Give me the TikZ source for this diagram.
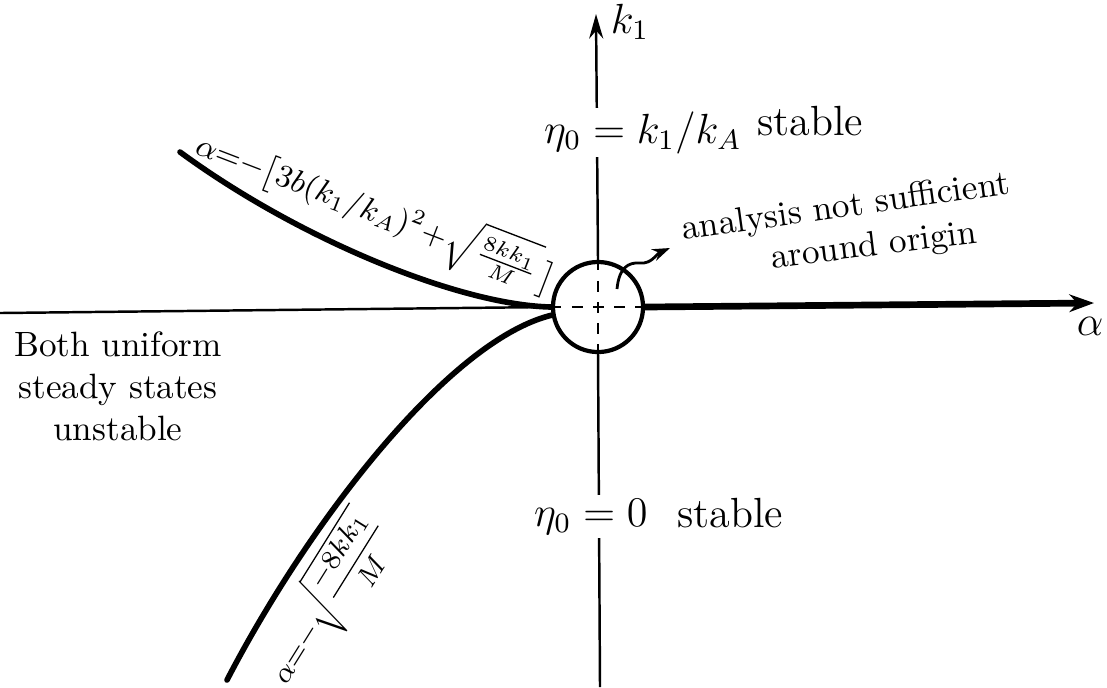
\documentclass[tikz,border=0pt]{standalone}
\usepackage{amsmath,amssymb}
\usetikzlibrary{arrows.meta,positioning}

\begin{document}
\begin{tikzpicture}[
    x=0.01cm, y=-0.01cm,
    axisLine/.style={line width=0.7pt, draw=black},
    mainAxis/.style={line width=1.9pt, -{Stealth[length=7pt, width=5pt]}},
    branch/.style={line width=1.6pt, line cap=round},
    inside/.style={line width=0.8pt, dashed},
    blob/.style={circle, draw, line width=1.2pt, minimum size=0.9cm, inner sep=0pt},
    regionLabel/.style={font=\large, inner sep=1pt},
    curveLabel/.style={font=\small, inner sep=1pt},
    noteLabel/.style={font=\fontsize{10}{12}\selectfont, align=center, inner sep=0.5pt},
    pointer/.style={line width=0.8pt, -{Stealth[length=5pt, width=3.5pt]}}
]
\useasboundingbox (0,0) rectangle (1107,687);

% Region around the origin
\node[blob] (origin) at (598,307) {};

% Axes ends
\coordinate (kTop) at (596,14);
\coordinate (kBot) at (600,687);
\coordinate (aLeft) at (0,313);
\coordinate (aRight) at (1094,303);

% Region labels (drawn first so the white fill cuts the axis)
\draw[axisLine] (kBot) -- (origin.south);
\draw[axisLine, -{Stealth[length=7pt, width=4pt]}] (origin.north) -- (kTop);

\node[regionLabel, fill=white, anchor=base west] (upperState) at (540,143) {$\eta_0 = k_1/k_A$};
\node[regionLabel, anchor=base west] (upperStable) at (753,135) {stable};
\node[regionLabel, fill=white, anchor=base west] (lowerState) at (530,526) {$\eta_0 = 0$};
\node[regionLabel, anchor=base west] (lowerStable) at (673,527) {stable};

% Axes
\draw[axisLine] (aLeft) -- (origin.west);
\draw[mainAxis] (origin.east) -- (aRight);
\draw[inside] (origin.west) -- (origin.east);
\draw[inside] (origin.north) -- (origin.south);

\node[font=\large] (kLabel) at (630,22) {$k_1$};
\node[font=\large] (aLabel) at (1090,326) {$\alpha$};

% Branches
\coordinate (upStart) at (180,152);
\coordinate (lowStart) at (227,680);
\draw[branch] (upStart) .. controls (300,240) and (460,305) .. (origin.west);
\draw[branch] (lowStart) .. controls (310,520) and (450,340) .. (origin.190);

\node[curveLabel, rotate=-21] (upperBranch) at (376,211)
    {$\alpha{=}{-}\bigl[3b(k_1/k_A)^2{+}\sqrt{\tfrac{8kk_1}{M}}\,\bigr]$};
\node[curveLabel, rotate=58, font=\footnotesize] (lowerBranch) at (327,600)
    {$\alpha{=}{-}\sqrt{\dfrac{-8kk_1}{M}}$};

% Left region
\node[noteLabel] (leftRegion) at (118,386) {Both uniform\\steady states\\unstable};

% Note about the origin
\node[noteLabel, rotate=8] (originNote) at (846,208) {analysis not sufficient};
\node[noteLabel, rotate=7] (originNoteB) at (874,247) {around origin};
\coordinate (noteTail) at (617,289);
\coordinate (noteTip) at (670,248);
\draw[pointer] (noteTail) .. controls (619,268) and (628,262) .. (640,263)
    .. controls (652,264) and (656,254) .. (noteTip);

\end{tikzpicture}
\end{document}
